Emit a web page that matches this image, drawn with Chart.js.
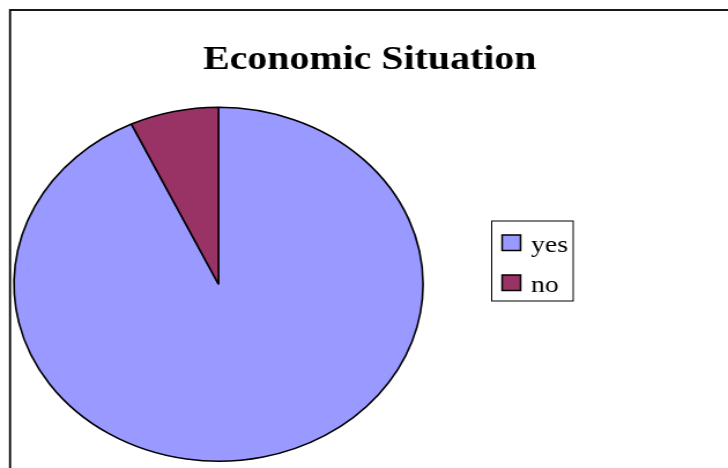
<!DOCTYPE html>
<html>
<head>
<meta charset="utf-8">
<script src="https://cdn.jsdelivr.net/npm/chart.js@4/dist/chart.umd.min.js"></script>
<style>
  html, body { margin: 0; background: #fff; }
  #c { display: block; }
</style>
</head>
<body>
<!-- drawn at 630 wide, shown 728 wide: the chart is stretched sideways -->
<canvas id="c" width="630" height="468" style="width:728px;height:468px"></canvas>
<script>
"use strict";
const $ = id => document.getElementById(id);

const titleText = "Economic Situation";
const labels = ["yes", "no"];
const values = [93, 7];
const colors = ["#9999ff", "#993366"];

const serif = '"Liberation Serif", "Times New Roman", serif';

/* ---------- frame, title, boxed legend ---------- */
const decor = {
  id: "decor",
  afterDraw(chart) {
    const ctx = chart.ctx;
    ctx.save();
    // outer frame (runs off the right / bottom edge)
    ctx.strokeStyle = "#000";
    ctx.lineWidth = 1.8;
    ctx.strokeRect(8.7, 10, 800, 800);

    // title
    ctx.fillStyle = "#000";
    ctx.font = "bold 34.5px " + serif;
    ctx.textAlign = "center";
    ctx.textBaseline = "alphabetic";
    ctx.fillText(titleText, 320, 69);

    // legend box
    ctx.lineWidth = 1;
    ctx.strokeRect(425.5, 221, 70.5, 80);
    ctx.font = "24px " + serif;
    ctx.textAlign = "left";
    const ds = chart.data.datasets[0];
    chart.data.labels.forEach((lab, i) => {
      const y = 235 + i * 40;
      ctx.fillStyle = ds.backgroundColor[i];
      ctx.fillRect(434.5, y, 16, 15.5);
      ctx.lineWidth = 1.5;
      ctx.strokeRect(434.5, y, 16, 15.5);
      ctx.fillStyle = "#000";
      ctx.fillText(lab, 459.5, y + 16.5);
    });
    ctx.restore();
  }
};

/* ---------- pie ---------- */
new Chart($("c"), {
  type: "pie",
  data: {
    labels: labels,
    datasets: [{
      data: values,
      backgroundColor: colors,
      borderColor: "#000",
      borderWidth: 1.6,
      radius: 177
    }]
  },
  options: {
    responsive: false,
    devicePixelRatio: 1,
    animation: false,
    events: [],
    layout: { padding: { left: 0, right: 251.8, top: 100.5, bottom: 0 } },
    plugins: {
      legend: { display: false },
      title: { display: false },
      tooltip: { enabled: false }
    }
  },
  plugins: [decor]
});
</script>
</body>
</html>
